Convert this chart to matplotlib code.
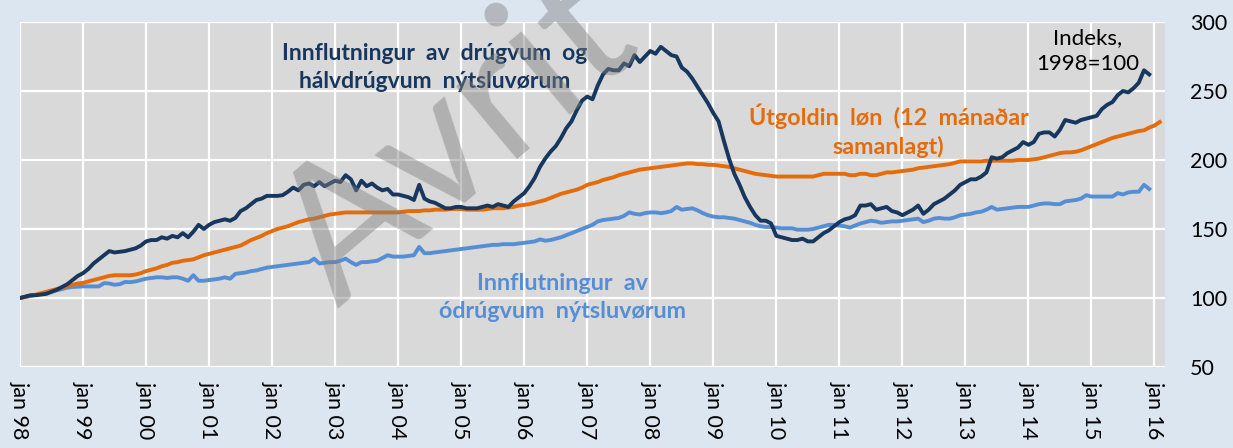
import matplotlib.pyplot as plt
import numpy as np

plt.rcParams['font.family'] = ['Lato', 'DejaVu Sans']

# Innflutningur av drúgvum og hálvdrúgvum nýtsluvørum (jan 98 - des 15)
durable = [
    100, 101, 102, 102, 102.5, 103, 104.5, 106, 108, 110, 113, 116,
    118, 121, 125, 128, 131, 134, 133, 133.5, 134, 135, 136, 138,
    141, 142, 142, 144, 143, 145, 144, 147, 144, 148, 153, 150,
    153, 155, 156, 157, 156, 158, 163, 165, 168, 171, 172, 174,
    174, 174, 174.5, 177, 180, 178, 182, 183, 181, 184, 181, 183,
    185, 184, 189, 186, 178, 185, 181, 183, 180, 178, 179, 175,
    175, 174, 173, 171, 182, 172, 170, 169, 167, 165, 165, 166,
    166, 165, 165, 165, 166, 167, 166, 168, 167, 166, 170, 173,
    176, 181, 187, 195, 201, 206, 210, 216, 223, 228, 236, 243,
    246, 244, 254, 262, 266, 265, 265, 270, 268, 276, 271, 275,
    279, 277, 282, 279, 276, 275, 267, 264, 259, 253, 247, 241,
    234, 228, 214, 201, 190, 182, 173, 166, 160, 156, 156, 154,
    145, 144, 143, 142, 142, 143, 141, 141, 144, 147, 149, 152,
    155, 157, 158, 160, 167, 167, 168, 164, 165, 166, 163, 162,
    160, 162, 164, 167, 161, 164, 168, 170, 172, 175, 178, 182,
    184, 186, 186, 188, 191, 202, 201, 202, 205, 207, 209, 213,
    211, 213, 219, 220, 220, 217, 222, 229, 228, 227, 229, 230,
    231, 232, 237, 240, 242, 247, 250, 249, 252, 256, 265, 262,
]

# Útgoldin løn, 12 mánaðar samanlagt (jan 98 - feb 16)
wages = [
    100, 100.8, 101.5, 102.5, 103.5, 104.5, 105.5, 106.5, 107.5, 108.5, 109.5, 110.5,
    111, 112, 113, 114, 115, 116, 116.5, 116.5, 116.5, 116.5, 117, 118,
    119.5, 120.5, 121.5, 123, 124, 125.5, 126, 127, 127.5, 128, 129.5, 131,
    132, 133, 134, 135, 136, 137, 138, 140, 142, 143.5, 145, 147,
    148.5, 150, 151, 152, 153.5, 155, 156, 157, 157.5, 158.5, 159.5, 160.5,
    161, 161.5, 162, 162, 162, 162, 162, 162, 162, 162, 162, 162,
    162, 162.5, 163, 163, 163, 163.5, 163.5, 164, 164, 164, 164.5, 164.5,
    164.5, 164, 164, 164, 164, 164.5, 165, 165, 165, 165.5, 166, 167,
    167.5, 168, 169, 170, 171, 172.5, 174, 175.5, 176.5, 177.5, 178.5, 180,
    182, 183, 184, 185.5, 186.5, 187.5, 189, 190, 191, 192, 193, 193.5,
    194, 194.5, 195, 195.5, 196, 196.5, 197, 197.5, 197.5, 197, 197, 196.5,
    196.5, 196, 195.5, 195, 194, 193, 192, 191, 190, 189.5, 189, 188.5,
    188, 188, 188, 188, 188, 188, 188, 188, 189, 190, 190, 190,
    190, 190, 189, 189, 190, 190, 189, 189, 190, 191, 191, 191.5,
    192, 192.5, 193, 194, 194.5, 195, 195.5, 196, 196.5, 197, 198, 199,
    199, 199, 199, 199, 199.5, 199.5, 199.5, 199.5, 199.5, 199.5, 200, 200,
    200, 200.5, 201, 202, 203, 204, 205, 205.5, 205.5, 206, 207, 208.5,
    210, 211.5, 213, 214.5, 216, 217, 218, 219, 220, 221, 221.5, 223.5,
    225, 227.5,
]

# Innflutningur av ódrúgvum nýtsluvørum (jan 98 - des 15)
nondurable = [
    100, 100.8, 101.5, 102.2, 103, 103.5, 104.5, 105.5, 106.5, 107.5, 108, 108.2,
    108.4, 108.4, 108.4, 108.4, 110.8, 110.5, 109.6, 110, 111.6, 111.5, 112, 113,
    114, 114.5, 115, 115, 114.5, 115, 115, 114, 112.5, 116.5, 112.5, 112.5,
    113, 113.5, 114, 115, 114, 117.5, 118, 118.5, 119.5, 120, 121, 122,
    122.5, 123, 123.5, 124, 124.5, 125, 125.5, 126, 128.5, 125, 125.5, 126,
    126, 127, 128.5, 126, 124, 126, 126, 126.5, 127, 129, 131, 130,
    130, 130, 130.5, 131, 137, 132.5, 132.5, 133, 133.5, 134, 134.5, 135,
    135.5, 136, 136.5, 137, 137.5, 138, 138.5, 138.5, 139, 139, 139, 139.5,
    140, 140.5, 141, 142.5, 141.5, 142, 143, 144, 145.5, 147, 148.5, 150,
    151.5, 153, 155.5, 156.5, 157, 157.5, 158, 159.5, 162, 161, 160.5, 161.5,
    162, 162, 161.5, 162, 163, 166, 164, 164.5, 165, 163.5, 161.5, 160,
    159, 158.5, 158.5, 158, 157.5, 156.5, 155.5, 154.5, 153, 152, 151.5, 151.5,
    151, 150.5, 150.5, 150.5, 149.5, 149.5, 149.5, 150, 151, 152, 153, 153,
    152.5, 152, 151, 152.5, 154, 155, 156, 155.5, 154.5, 155, 155.5, 155.5,
    156, 156.5, 157, 157.5, 155, 156, 157.5, 158, 157.5, 157.5, 158.5, 160,
    160.5, 161, 162, 162.5, 164, 166, 164, 164.5, 165, 165.5, 166, 166,
    166, 167, 168, 168.5, 168.5, 168, 168, 170, 170.5, 171, 172, 174.5,
    173.5, 173.5, 173.5, 173.5, 173.5, 176, 175, 176.5, 177, 177, 182, 179,
]

tick_labels = ['jan 98', 'jan 99', 'jan 00', 'jan 01', 'jan 02', 'jan 03', 'jan 04',
               'jan 05', 'jan 06', 'jan 07', 'jan 08', 'jan 09', 'jan 10', 'jan 11',
               'jan 12', 'jan 13', 'jan 14', 'jan 15', 'jan 16']

dark = '#17375E'
orange = '#E46C0A'
light = '#558ED5'

W, H = 1233, 448
fig = plt.figure(figsize=(W / 100, H / 100), dpi=100, facecolor='#DCE6F1')
ax = fig.add_axes([20 / W, 1 - 367 / H, 1145 / W, 345 / H])
ax.set_facecolor('#D9D9D9')

ax.plot(np.arange(len(nondurable)), nondurable, color=light, lw=2.8, zorder=3)
ax.plot(np.arange(len(wages)), wages, color=orange, lw=2.8, zorder=4)
ax.plot(np.arange(len(durable)), durable, color=dark, lw=2.8, zorder=5)

ax.set_xlim(0, 218)
ax.set_ylim(50, 300)
ax.set_xticks(np.arange(len(tick_labels)) * 12)
ax.set_xticklabels(tick_labels, rotation=270, fontsize=15.5)
ax.set_yticks([50, 100, 150, 200, 250, 300])
ax.yaxis.tick_right()
ax.tick_params(axis='y', length=0, pad=18, labelsize=15.5)
ax.tick_params(axis='x', length=0, pad=10)
ax.grid(color='white', lw=1.6, zorder=1)
ax.set_axisbelow(True)
for s in ax.spines.values():
    s.set_visible(False)

ax.text(79, 267, 'Innflutningur  av  drúgvum  og\nhálvdrúgvum  nýtsluvørum',
        color=dark, fontsize=16.5, fontweight='bold', ha='center', va='center',
        linespacing=1.4, zorder=6)
ax.text(165.4, 221, 'Útgoldin  løn  (12  mánaðar\nsamanlagt)',
        color=orange, fontsize=16.8, fontweight='bold', ha='center', va='center',
        linespacing=1.4, zorder=6)
ax.text(103.3, 100.4, 'Innflutningur  av\nódrúgvum  nýtsluvørum',
        color=light, fontsize=16.8, fontweight='bold', ha='center', va='center',
        linespacing=1.4, zorder=6)
ax.text(203.2, 279, 'Indeks,\n1998=100', color='black', fontsize=16,
        ha='center', va='center', linespacing=1.4, zorder=6)

# vatnmerki
fig.text(458 / W, 1 - 140 / H, 'Avrit', rotation=40, fontsize=134,
         fontweight='normal', color='#7F7F7F', alpha=0.45, ha='center',
         va='center', rotation_mode='anchor')

fig.savefig('out.png', dpi=100, facecolor=fig.get_facecolor())
